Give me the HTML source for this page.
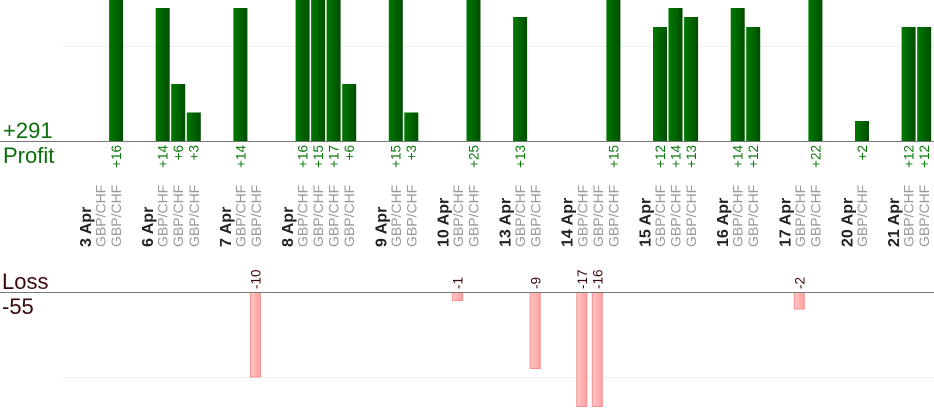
<!DOCTYPE html>
<html><head><meta charset="utf-8"><style>
html,body{margin:0;padding:0;background:#fff;width:934px;height:420px;overflow:hidden}
svg{display:block}
.p{fill:#0a7a0a;font:13.5px "Liberation Sans",sans-serif}
.l{fill:#3a0a0a;font:13.5px "Liberation Sans",sans-serif}
.d{fill:#222;font:bold 16px "Liberation Sans",sans-serif}
.g{fill:#999;font:14px "Liberation Sans",sans-serif}
</style></head><body>
<svg width="934" height="420" xmlns="http://www.w3.org/2000/svg">
<defs>
<linearGradient id="gg" x1="0" x2="1"><stop offset="0" stop-color="#007a00"/><stop offset="1" stop-color="#004d00"/></linearGradient>
<linearGradient id="rg" x1="0" x2="1"><stop offset="0" stop-color="#ffc8c8"/><stop offset="1" stop-color="#ff9e9e"/></linearGradient>
</defs>
<line x1="63" y1="46.5" x2="934" y2="46.5" stroke="#eee"/>
<line x1="63" y1="377.5" x2="934" y2="377.5" stroke="#eee"/>
<g fill="url(#gg)">
<rect x="109.1" y="0" width="14" height="141"/>
<rect x="155.7" y="8" width="14" height="133"/>
<rect x="171.2" y="84" width="14" height="57"/>
<rect x="186.8" y="112.5" width="14" height="28.5"/>
<rect x="233.4" y="8" width="14" height="133"/>
<rect x="295.6" y="0" width="14" height="141"/>
<rect x="311.1" y="0" width="14" height="141"/>
<rect x="326.6" y="0" width="14" height="141"/>
<rect x="342.2" y="84" width="14" height="57"/>
<rect x="388.8" y="0" width="14" height="141"/>
<rect x="404.3" y="112.5" width="14" height="28.5"/>
<rect x="466.5" y="0" width="14" height="141"/>
<rect x="513.1" y="17" width="14" height="124"/>
<rect x="606.4" y="0" width="14" height="141"/>
<rect x="653" y="27" width="14" height="114"/>
<rect x="668.5" y="8" width="14" height="133"/>
<rect x="684.1" y="17" width="14" height="124"/>
<rect x="730.7" y="8" width="14" height="133"/>
<rect x="746.2" y="27" width="14" height="114"/>
<rect x="808.4" y="0" width="14" height="141"/>
<rect x="855" y="121" width="14" height="20"/>
<rect x="901.6" y="27" width="14" height="114"/>
<rect x="917.2" y="27" width="14" height="114"/>
</g>
<g fill="url(#rg)" stroke="#f59090" stroke-width="1">
<rect x="250.4" y="292.5" width="10" height="84.5"/>
<rect x="452.5" y="292.5" width="10" height="8"/>
<rect x="530.2" y="292.5" width="10" height="76"/>
<rect x="576.8" y="292.5" width="10" height="114"/>
<rect x="592.3" y="292.5" width="10" height="114"/>
<rect x="794.3" y="292.5" width="10" height="16.5"/>
</g>
<line x1="0" y1="141.5" x2="934" y2="141.5" stroke="#777"/>
<line x1="0" y1="292.5" x2="934" y2="292.5" stroke="#777"/>
<text x="3" y="138" style="font:22px 'Liberation Sans',sans-serif;fill:#0a6e0a">+291</text>
<text x="3" y="163" style="font:22px 'Liberation Sans',sans-serif;fill:#0a6e0a">Profit</text>
<text x="2" y="289" style="font:22px 'Liberation Sans',sans-serif;fill:#3a0a0a">Loss</text>
<text x="2" y="314" style="font:22px 'Liberation Sans',sans-serif;fill:#3a0a0a">-55</text>
<g class="p" text-anchor="end">
<text transform="translate(121,145) rotate(-90)">+16</text>
<text transform="translate(167.6,145) rotate(-90)">+14</text>
<text transform="translate(183.1,145) rotate(-90)">+6</text>
<text transform="translate(198.7,145) rotate(-90)">+3</text>
<text transform="translate(245.3,145) rotate(-90)">+14</text>
<text transform="translate(307.5,145) rotate(-90)">+16</text>
<text transform="translate(323,145) rotate(-90)">+15</text>
<text transform="translate(338.5,145) rotate(-90)">+17</text>
<text transform="translate(354.1,145) rotate(-90)">+6</text>
<text transform="translate(400.7,145) rotate(-90)">+15</text>
<text transform="translate(416.2,145) rotate(-90)">+3</text>
<text transform="translate(478.4,145) rotate(-90)">+25</text>
<text transform="translate(525,145) rotate(-90)">+13</text>
<text transform="translate(618.3,145) rotate(-90)">+15</text>
<text transform="translate(664.9,145) rotate(-90)">+12</text>
<text transform="translate(680.4,145) rotate(-90)">+14</text>
<text transform="translate(696,145) rotate(-90)">+13</text>
<text transform="translate(742.6,145) rotate(-90)">+14</text>
<text transform="translate(758.1,145) rotate(-90)">+12</text>
<text transform="translate(820.3,145) rotate(-90)">+22</text>
<text transform="translate(866.9,145) rotate(-90)">+2</text>
<text transform="translate(913.5,145) rotate(-90)">+12</text>
<text transform="translate(929.1,145) rotate(-90)">+12</text>
</g>
<g class="l">
<text transform="translate(260.6,289) rotate(-90)">-10</text>
<text transform="translate(462.6,289) rotate(-90)">-1</text>
<text transform="translate(540.4,289) rotate(-90)">-9</text>
<text transform="translate(587,289) rotate(-90)">-17</text>
<text transform="translate(602.5,289) rotate(-90)">-16</text>
<text transform="translate(804.5,289) rotate(-90)">-2</text>
</g>
<g class="d">
<text transform="translate(91,247) rotate(-90)">3 Apr</text>
<text transform="translate(153.2,247) rotate(-90)">6 Apr</text>
<text transform="translate(230.9,247) rotate(-90)">7 Apr</text>
<text transform="translate(293,247) rotate(-90)">8 Apr</text>
<text transform="translate(386.3,247) rotate(-90)">9 Apr</text>
<text transform="translate(448.4,247) rotate(-90)">10 Apr</text>
<text transform="translate(510.6,247) rotate(-90)">13 Apr</text>
<text transform="translate(572.7,247) rotate(-90)">14 Apr</text>
<text transform="translate(650.4,247) rotate(-90)">15 Apr</text>
<text transform="translate(728.1,247) rotate(-90)">16 Apr</text>
<text transform="translate(790.3,247) rotate(-90)">17 Apr</text>
<text transform="translate(852.5,247) rotate(-90)">20 Apr</text>
<text transform="translate(899.1,247) rotate(-90)">21 Apr</text>
</g>
<g class="g">
<text transform="translate(105.5,247) rotate(-90)">GBP/CHF</text>
<text transform="translate(121.1,247) rotate(-90)">GBP/CHF</text>
<text transform="translate(167.7,247) rotate(-90)">GBP/CHF</text>
<text transform="translate(183.2,247) rotate(-90)">GBP/CHF</text>
<text transform="translate(198.8,247) rotate(-90)">GBP/CHF</text>
<text transform="translate(245.4,247) rotate(-90)">GBP/CHF</text>
<text transform="translate(260.9,247) rotate(-90)">GBP/CHF</text>
<text transform="translate(307.6,247) rotate(-90)">GBP/CHF</text>
<text transform="translate(323.1,247) rotate(-90)">GBP/CHF</text>
<text transform="translate(338.6,247) rotate(-90)">GBP/CHF</text>
<text transform="translate(354.2,247) rotate(-90)">GBP/CHF</text>
<text transform="translate(400.8,247) rotate(-90)">GBP/CHF</text>
<text transform="translate(416.3,247) rotate(-90)">GBP/CHF</text>
<text transform="translate(463,247) rotate(-90)">GBP/CHF</text>
<text transform="translate(478.5,247) rotate(-90)">GBP/CHF</text>
<text transform="translate(525.1,247) rotate(-90)">GBP/CHF</text>
<text transform="translate(540.7,247) rotate(-90)">GBP/CHF</text>
<text transform="translate(587.3,247) rotate(-90)">GBP/CHF</text>
<text transform="translate(602.8,247) rotate(-90)">GBP/CHF</text>
<text transform="translate(618.4,247) rotate(-90)">GBP/CHF</text>
<text transform="translate(665,247) rotate(-90)">GBP/CHF</text>
<text transform="translate(680.5,247) rotate(-90)">GBP/CHF</text>
<text transform="translate(696.1,247) rotate(-90)">GBP/CHF</text>
<text transform="translate(742.7,247) rotate(-90)">GBP/CHF</text>
<text transform="translate(758.2,247) rotate(-90)">GBP/CHF</text>
<text transform="translate(804.8,247) rotate(-90)">GBP/CHF</text>
<text transform="translate(820.4,247) rotate(-90)">GBP/CHF</text>
<text transform="translate(867,247) rotate(-90)">GBP/CHF</text>
<text transform="translate(913.6,247) rotate(-90)">GBP/CHF</text>
<text transform="translate(929.2,247) rotate(-90)">GBP/CHF</text>
</g>
</svg>
</body></html>
